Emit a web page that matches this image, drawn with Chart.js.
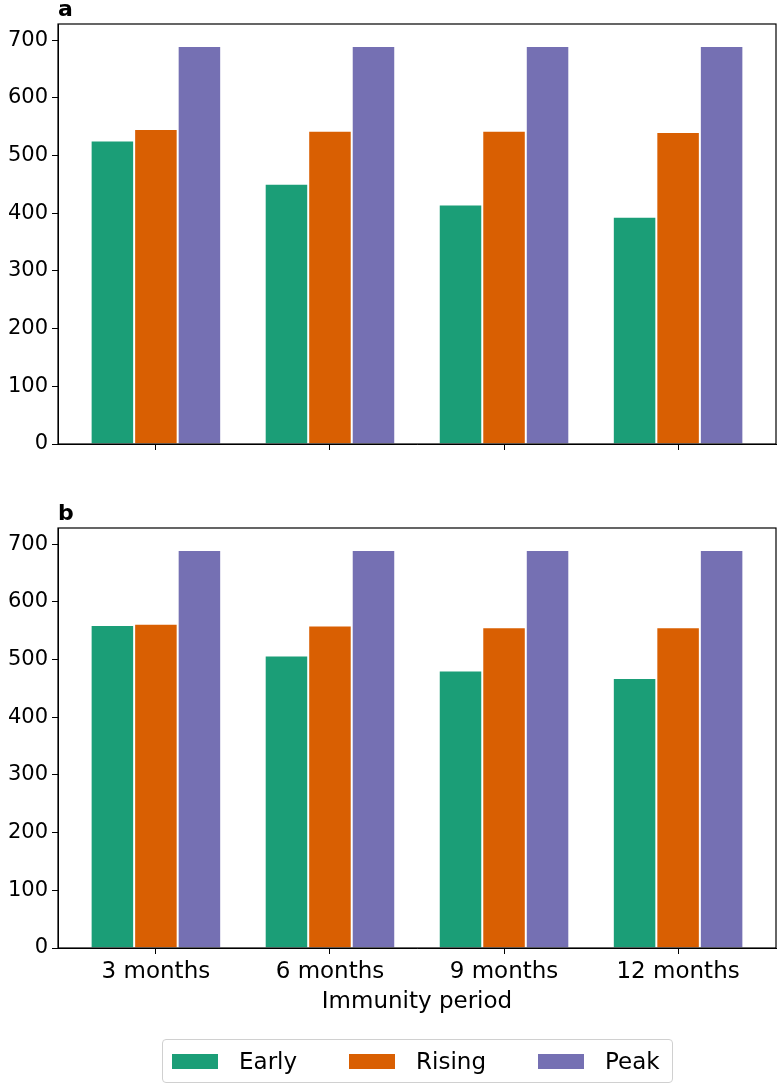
<!DOCTYPE html>
<html>
<head>
<meta charset="utf-8">
<script src="https://cdn.jsdelivr.net/npm/chart.js@4.4.0/dist/chart.umd.min.js"></script>
<style>
    body { margin: 0; background: #fff; font-family: "DejaVu Sans", sans-serif; }
    #wrap { position: relative; width: 780px; height: 1087px; }
    #panelA { position: absolute; left: 0; top: 0; }
    #panelB { position: absolute; left: 0; top: 480px; }
    #legend {
        position: absolute; left: 162px; top: 1039px; width: 509px; height: 42px;
        border: 1px solid #d0d0d0; border-radius: 4px;
        display: flex; align-items: center; font-size: 23px; color: #000;
    }
    .item { display: flex; align-items: center; }
    .swatch { width: 46px; height: 15px; margin-left: 9px; margin-right: 21px; }
    .item + .item .swatch { margin-left: 52px; }
</style>
</head>
<body>
<div id="wrap">
    <canvas id="panelA" width="780" height="470"></canvas>
    <canvas id="panelB" width="780" height="560"></canvas>
    <div id="legend"></div>
</div>
<script>
// immunity periods on the x axis
const categories = ['3 months', '6 months', '9 months', '12 months'];
const seriesNames = ['Early', 'Rising', 'Peak'];
const seriesColors = ['#1b9e77', '#d95f02', '#7570b3'];

// panel a
const aEarly = [526, 451, 415, 394];
const aRising = [546, 543, 543, 541];
const aPeak = [690, 690, 690, 690];

// panel b
const bEarly = [560, 507, 481, 468];
const bRising = [562, 559, 556, 556];
const bPeak = [690, 690, 690, 690];

const yTicks = [0, 100, 200, 300, 400, 500, 600, 700];

function toPoints(values) {
    return values.map((v, i) => ({ x: i, y: v }));
}

function makeDatasets(series) {
    return series.map((values, k) => ({
        label: seriesNames[k],
        data: toPoints(values),
        backgroundColor: seriesColors[k],
        borderColor: '#ffffff',
        borderWidth: 1,
        categoryPercentage: 0.75,
        barPercentage: 1
    }));
}

// full box around the plot plus the panel letter
const frame = {
    id: 'frame',
    afterDraw(chart, args, opts) {
        const a = chart.chartArea;
        const ctx = chart.ctx;
        ctx.save();
        ctx.strokeStyle = '#000';
        ctx.lineWidth = 1.2;
        ctx.strokeRect(a.left, a.top, a.right - a.left, a.bottom - a.top);
        ctx.fillStyle = '#000';
        ctx.font = 'bold 22px "DejaVu Sans"';
        ctx.textBaseline = 'alphabetic';
        ctx.textAlign = 'left';
        ctx.fillText(opts.letter, a.left, a.top - 8);
        ctx.restore();
    }
};

function makeChart(id, series, letter, showLabels) {
    const topPad = showLabels ? 48 : 24;
    const xHeight = showLabels ? 92 : 26;
    return new Chart(document.getElementById(id), {
        type: 'bar',
        data: { datasets: makeDatasets(series) },
        options: {
            responsive: false,
            animation: false,
            layout: { padding: { top: topPad, right: 4, left: 0, bottom: 0 } },
            plugins: {
                legend: { display: false },
                tooltip: { enabled: false },
                frame: { letter: letter }
            },
            scales: {
                x: {
                    type: 'linear',
                    min: -0.5625,
                    max: 3.5625,
                    offset: false,
                    afterBuildTicks: (scale) => {
                        scale.ticks = categories.map((c, i) => ({ value: i }));
                    },
                    afterFit: (scale) => { scale.height = xHeight; },
                    grid: { offset: false, drawOnChartArea: false, drawTicks: true, tickLength: 6, color: '#000' },
                    border: { color: '#000' },
                    ticks: {
                        display: showLabels,
                        color: '#000',
                        padding: 4,
                        font: { family: 'DejaVu Sans', size: 23 },
                        callback: (v) => categories[v]
                    },
                    title: {
                        display: showLabels,
                        text: 'Immunity period',
                        color: '#000',
                        font: { family: 'DejaVu Sans', size: 23 },
                        padding: { top: 0, bottom: 24 }
                    }
                },
                y: {
                    min: 0,
                    max: 728,
                    afterBuildTicks: (scale) => {
                        scale.ticks = yTicks.map(v => ({ value: v }));
                    },
                    afterFit: (scale) => { scale.width = 58; },
                    grid: { drawOnChartArea: false, drawTicks: true, tickLength: 6, color: '#000' },
                    border: { color: '#000' },
                    ticks: {
                        color: '#000',
                        padding: 4,
                        font: { family: 'DejaVu Sans', size: 21 }
                    }
                }
            }
        },
        plugins: [frame]
    });
}

const chartA = makeChart('panelA', [aEarly, aRising, aPeak], 'a', false);
const chartB = makeChart('panelB', [bEarly, bRising, bPeak], 'b', true);

// legend under both panels, built from the datasets
const legend = document.getElementById('legend');
chartB.data.datasets.forEach(ds => {
    const item = document.createElement('div');
    item.className = 'item';
    const sw = document.createElement('span');
    sw.className = 'swatch';
    sw.style.background = ds.backgroundColor;
    const txt = document.createElement('span');
    txt.textContent = ds.label;
    item.appendChild(sw);
    item.appendChild(txt);
    legend.appendChild(item);
});
</script>
</body>
</html>
